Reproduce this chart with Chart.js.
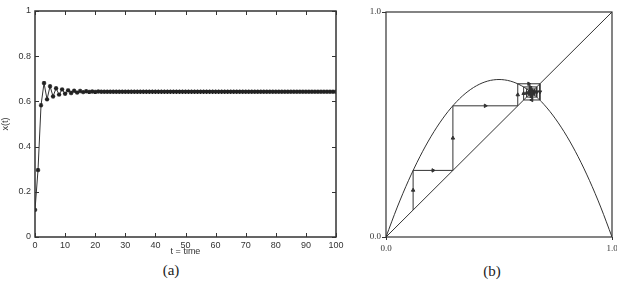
<!DOCTYPE html>
<html>
<head>
<meta charset="UTF-8">
<title>logistic map</title>
<script src="https://cdn.jsdelivr.net/npm/chart.js"></script>
<style>
    body { margin: 0; width: 617px; height: 283px; background: #fff; position: relative; overflow: hidden; }
    canvas { position: absolute; top: 0; }
    #chartA { left: 0; }
    #chartB { left: 350px; }
    .cap { position: absolute; font-family: "Liberation Serif", serif; font-size: 15px; color: #222; transform: translate(-50%, -50%); }
</style>
</head>
<body>
<canvas id="chartA" width="345" height="257"></canvas>
<canvas id="chartB" width="267" height="258"></canvas>
<div class="cap" style="left:171px; top:270px;">(a)</div>
<div class="cap" style="left:492px; top:271px;">(b)</div>
<script>
    // x(t), t = 0..100
    var xt = [
        0.120, 0.296, 0.583, 0.681, 0.609, 0.667, 0.622, 0.658, 0.630, 0.653,
        0.634, 0.649, 0.637, 0.647, 0.639, 0.646, 0.641, 0.645, 0.642, 0.644,
        0.642, 0.644, 0.643, 0.643, 0.643, 0.643, 0.643, 0.643, 0.643, 0.643,
        0.643, 0.643, 0.643, 0.643, 0.643, 0.643, 0.643, 0.643, 0.643, 0.643,
        0.643, 0.643, 0.643, 0.643, 0.643, 0.643, 0.643, 0.643, 0.643, 0.643,
        0.643, 0.643, 0.643, 0.643, 0.643, 0.643, 0.643, 0.643, 0.643, 0.643,
        0.643, 0.643, 0.643, 0.643, 0.643, 0.643, 0.643, 0.643, 0.643, 0.643,
        0.643, 0.643, 0.643, 0.643, 0.643, 0.643, 0.643, 0.643, 0.643, 0.643,
        0.643, 0.643, 0.643, 0.643, 0.643, 0.643, 0.643, 0.643, 0.643, 0.643,
        0.643, 0.643, 0.643, 0.643, 0.643, 0.643, 0.643, 0.643, 0.643, 0.643,
        0.643
    ];

    // parabola f(x)
    var curveX = [0, 0.05, 0.1, 0.15, 0.2, 0.25, 0.3, 0.35, 0.4, 0.45, 0.5,
                  0.55, 0.6, 0.65, 0.7, 0.75, 0.8, 0.85, 0.9, 0.95, 1];
    var curveY = [0, 0.133, 0.252, 0.357, 0.448, 0.525, 0.588, 0.637, 0.672, 0.693, 0.700,
                  0.693, 0.672, 0.637, 0.588, 0.525, 0.448, 0.357, 0.252, 0.133, 0];

    var diagX = [0, 1];
    var diagY = [0, 1];

    // number of iterates used for the cobweb
    var cobwebSteps = 30;

    var ink = '#333';

    // frame round the plot area, plus inner tick marks for panel (a)
    var framePlugin = {
        id: 'frame',
        afterDraw: function (chart, args, opts) {
            var ctx = chart.ctx, a = chart.chartArea;
            ctx.save();
            ctx.strokeStyle = ink;
            ctx.lineWidth = opts.width || 1;
            ctx.strokeRect(a.left, a.top, a.right - a.left, a.bottom - a.top);
            if (opts.inner) {
                var L = 4;
                ctx.lineWidth = 1;
                ctx.beginPath();
                chart.scales.x.ticks.forEach(function (t) {
                    var px = Math.round(chart.scales.x.getPixelForValue(t.value)) + 0.5;
                    ctx.moveTo(px, a.bottom); ctx.lineTo(px, a.bottom - L);
                    ctx.moveTo(px, a.top); ctx.lineTo(px, a.top + L);
                });
                chart.scales.y.ticks.forEach(function (t) {
                    var py = Math.round(chart.scales.y.getPixelForValue(t.value)) + 0.5;
                    ctx.moveTo(a.left, py); ctx.lineTo(a.left + L, py);
                    ctx.moveTo(a.right, py); ctx.lineTo(a.right - L, py);
                });
                ctx.stroke();
            }
            ctx.restore();
        }
    };

    // panel (a): time series
    var sans = { family: '"Liberation Sans", Arial, sans-serif', size: 9 };
    new Chart(document.getElementById('chartA'), {
        type: 'scatter',
        data: {
            datasets: [{
                data: xt.map(function (v, i) { return { x: i, y: v }; }),
                showLine: true,
                borderColor: ink,
                borderWidth: 1,
                pointStyle: 'star',
                pointRadius: 2.2,
                pointBackgroundColor: '#222',
                pointBorderColor: '#222',
                pointBorderWidth: 1.2
            }]
        },
        options: {
            responsive: false,
            animation: false,
            layout: { padding: { left: 0, top: 11, right: 9, bottom: 0 } },
            plugins: { legend: { display: false }, tooltip: { enabled: false }, frame: { inner: true, width: 1.5 } },
            scales: {
                x: {
                    type: 'linear', min: 0, max: 100,
                    ticks: { stepSize: 10, color: ink, font: sans, padding: 3, maxRotation: 0 },
                    grid: { display: false, drawTicks: false },
                    border: { display: false },
                    title: { display: true, text: 't = time', color: ink, font: sans, padding: 0 },
                    afterFit: function (s) { s.height = 20; s.paddingLeft = 0; s.paddingRight = 0; }
                },
                y: {
                    min: 0, max: 1,
                    ticks: { stepSize: 0.2, color: ink, font: sans, padding: 4,
                             callback: function (v) { return String(Math.round(v * 10) / 10); } },
                    grid: { display: false, drawTicks: false },
                    border: { display: false },
                    title: { display: true, text: 'x(t)', color: ink, font: sans, padding: 0 },
                    afterFit: function (s) { s.width = 35; }
                }
            }
        },
        plugins: [framePlugin]
    });

    // panel (b): cobweb built from the iterates
    var stairs = [{ x: xt[0], y: xt[0] }];
    for (var i = 0; i < cobwebSteps; i++) {
        stairs.push({ x: xt[i], y: xt[i + 1] });
        stairs.push({ x: xt[i + 1], y: xt[i + 1] });
    }
    var arrows = [], arrowRot = [];
    for (var j = 0; j < stairs.length - 1; j++) {
        var p = stairs[j], q = stairs[j + 1];
        arrows.push({ x: (p.x + q.x) / 2, y: (p.y + q.y) / 2 });
        if (p.x === q.x) arrowRot.push(q.y > p.y ? 0 : 180);
        else arrowRot.push(q.x > p.x ? 90 : 270);
    }

    var serif = { family: '"Liberation Serif", "DejaVu Serif", serif', size: 9 };
    new Chart(document.getElementById('chartB'), {
        type: 'scatter',
        data: {
            datasets: [{
                data: curveX.map(function (v, i) { return { x: v, y: curveY[i] }; }),
                showLine: true, borderColor: ink, borderWidth: 1, pointRadius: 0,
                cubicInterpolationMode: 'monotone'
            }, {
                data: diagX.map(function (v, i) { return { x: v, y: diagY[i] }; }),
                showLine: true, borderColor: ink, borderWidth: 1, pointRadius: 0
            }, {
                data: stairs,
                showLine: true, borderColor: ink, borderWidth: 1, pointRadius: 0
            }, {
                data: arrows,
                showLine: false,
                pointStyle: 'triangle', pointRadius: 2, pointRotation: arrowRot,
                backgroundColor: ink, borderColor: ink, borderWidth: 1
            }]
        },
        options: {
            responsive: false,
            animation: false,
            layout: { padding: { left: 0, top: 12, right: 5, bottom: 0 } },
            plugins: { legend: { display: false }, tooltip: { enabled: false }, frame: { inner: false, width: 1.2 } },
            scales: {
                x: {
                    type: 'linear', min: 0, max: 1,
                    ticks: { stepSize: 1, color: ink, font: serif, padding: 3, maxRotation: 0,
                             callback: function (v) { return v.toFixed(1); } },
                    grid: { drawOnChartArea: false, tickLength: 3, color: ink },
                    border: { display: false },
                    afterFit: function (s) { s.height = 21; s.paddingLeft = 0; s.paddingRight = 0; }
                },
                y: {
                    min: 0, max: 1,
                    ticks: { stepSize: 1, color: ink, font: serif, padding: 1,
                             callback: function (v) { return v.toFixed(1); } },
                    grid: { drawOnChartArea: false, tickLength: 4, color: ink },
                    border: { display: false },
                    afterFit: function (s) { s.width = 36; }
                }
            }
        },
        plugins: [framePlugin]
    });
</script>
</body>
</html>
